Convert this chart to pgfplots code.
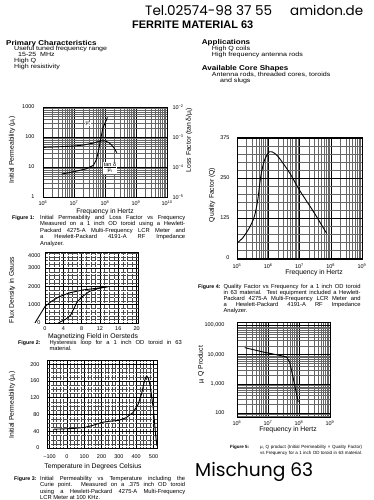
\documentclass[border=0pt]{standalone}
\usepackage{fontspec}
\setmainfont{Liberation Sans}
\newfontfamily\popp{Poppins}
\usepackage{graphicx}
\usepackage{pgfplots}
\pgfplotsset{compat=1.18}

\newcommand{\tkf}{\fontsize{5.5}{6}\selectfont}
\newcommand{\lbf}{\fontsize{6.8}{7}\selectfont}
\newcommand{\cpf}{\fontsize{5.8}{6}\selectfont}
\newcommand{\fgf}{\fontsize{5.3}{6}\selectfont\bfseries}
\newcommand{\smf}{\fontsize{4.5}{5}\selectfont}
\newcommand{\bdf}{\fontsize{6}{6}\selectfont}
\newcommand{\hdf}{\fontsize{7}{7}\selectfont\bfseries}
% justified caption line: font, x, y(baseline, down), width, text
\newcommand{\jl}[5]{\node[anchor=base west,inner sep=0pt,font=#1] at (#2pt,-#3pt) {\makebox[#4pt][s]{#5}};}
\newcommand{\pl}[4]{\node[anchor=base west,inner sep=0pt,font=#1] at (#2pt,-#3pt) {#4};}
% horizontally widened text line
\newcommand{\wl}[5]{\node[anchor=base west,inner sep=0pt,font=#1] at (#2pt,-#3pt) {\scalebox{#4}[1]{#5}};}

\pgfplotsset{
  ds/.style={scale only axis, anchor=north west,
    axis line style={line width=0.6pt},
    major tick length=0pt, minor tick length=0pt,
    grid=both,
    major grid style={black, line width=0.5pt},
    minor grid style={black!60, line width=0.2pt},
    tick label style={font=\tkf}},
  cv/.style={black, line width=0.9pt, mark=none},
}

\begin{document}
\begin{tikzpicture}
\fill[white] (0,0) rectangle (373pt,-500pt);

% ---------------- Figure 1 ----------------
\begin{axis}[ds, at={(43pt,-107pt)}, width=124pt, height=90pt,
  xmode=log, ymode=log, xmin=1e6, xmax=1e10, ymin=1, ymax=1000,
  xtick={1e6,1e7,1e8,1e9,1e10},
  xticklabels={10\textsuperscript{6},10\textsuperscript{7},10\textsuperscript{8},10\textsuperscript{9},10\textsuperscript{10}},
  ytick={1,10,100,1000}, yticklabels={1,10,100,1000},
  minor xtick={2e6,3e6,4e6,5e6,6e6,7e6,8e6,9e6,2e7,3e7,4e7,5e7,6e7,7e7,8e7,9e7,2e8,3e8,4e8,5e8,6e8,7e8,8e8,9e8,2e9,3e9,4e9,5e9,6e9,7e9,8e9,9e9},
  minor ytick={2,3,4,5,6,7,8,9,20,30,40,50,60,70,80,90,200,300,400,500,600,700,800,900},
  yticklabel style={xshift=-5pt}, xticklabel style={yshift=-0.5pt}]
\addplot[cv] coordinates {(1e6,45) (3e6,47) (1e7,50) (2e7,54) (4e7,62) (6e7,70) (8e7,75) (1e8,74) (1.3e8,66) (1.6e8,55) (2e8,42) (2.4e8,30)};
\end{axis}
\begin{axis}[scale only axis, anchor=north west, at={(43pt,-107pt)}, width=124pt, height=90pt,
  xmode=log, ymode=log, xmin=1e6, xmax=1e10, ymin=1e-5, ymax=1e-2,
  axis y line*=right, axis x line=none, axis line style={line width=0.6pt},
  major tick length=0pt, minor tick length=0pt,
  ytick={1e-5,1e-4,1e-3,1e-2},
  yticklabels={10\textsuperscript{−5},10\textsuperscript{−4},10\textsuperscript{−3},10\textsuperscript{−2}},
  tick label style={font=\tkf}, yticklabel style={xshift=2pt}]
\addplot[cv] coordinates {(4e6,5.8e-5) (1e7,7e-5) (2.5e7,8.7e-5) (4.3e7,1.15e-4) (5.2e7,1.7e-4) (5.8e7,2.6e-4) (6.3e7,3.9e-4) (7.1e7,7.6e-4) (8.5e7,1.96e-3) (1.2e8,4.5e-3)};
\end{axis}
\node[font=\tkf, fill=white, inner sep=0.5pt] at (88pt,-124pt) {μ\textsubscript{i}};
\node[font=\tkf, fill=white, inner sep=0.5pt] at (110pt,-168pt) {\begin{tabular}{@{}c@{}}tan δ\\[-1pt]\hline μ\textsubscript{i}\end{tabular}};
\node[font=\lbf, rotate=90] at (12pt,-150pt) {Initial Permeability (μ\textsubscript{i})};
\node[font=\lbf, rotate=90] at (189pt,-140pt) {Loss Factor (tan δ/μ\textsubscript{i})};
\node[font=\lbf] at (105pt,-211.5pt) {Frequency in Hertz};
\pl{\fgf}{12}{219}{Figure 1:}
\jl{\cpf}{40}{219}{145}{Initial Permeability and Loss Factor vs Frequency}
\jl{\cpf}{40}{225.5}{145}{Measured on a 1 inch OD toroid using a Hewlett-}
\jl{\cpf}{40}{232}{145}{Packard 4275-A Multi-Frequency LCR Meter and}
\jl{\cpf}{40}{238.5}{145}{a Hewlett-Packard 4191-A RF Impedance}
\pl{\cpf}{40}{245}{Analyzer.}

% ---------------- Figure 2 ----------------
\begin{axis}[ds, at={(45pt,-252pt)}, width=93pt, height=71pt, clip=false,
  xmin=0, xmax=20.3, ymin=0, ymax=3870,
  xtick={0,4,8,12,16,20}, xticklabels={0,4,8,12,16,20},
  ytick={0,1000,2000,3000}, yticklabels={0,1000,2000,3000},
  extra y ticks={3700}, extra y tick labels={4000}, extra tick style={grid=none},
  minor xtick={1,2,3,5,6,7,9,10,11,13,14,15,17,18,19},
  minor ytick={200,400,600,800,1200,1400,1600,1800,2200,2400,2600,2800,3200,3400,3600,3800},
  minor grid style={black!70, densely dotted, line width=0.25pt},
  yticklabel style={xshift=-1pt}]
\addplot[cv] coordinates {(-2.2,0) (-1.1,450) (0,900) (1.4,1180) (3,1420) (5.3,1640) (8.2,1800) (11.2,1890) (13.7,1980)};
\addplot[cv] coordinates {(2.9,0) (4.6,220) (5.6,430) (6.3,780) (7.0,1150) (8.2,1450) (9.7,1720) (11.8,1890) (13.7,1980)};
\end{axis}
\node[font=\lbf, rotate=90] at (12pt,-290pt) {Flux Density in Gauss};
\node[font=\lbf] at (93pt,-337pt) {Magnetizing Field in Oersteds};
\pl{\fgf}{18}{344.7}{Figure 2:}
\jl{\cpf}{49.3}{344.7}{132.4}{Hysteresis loop for a 1 inch OD toroid in 63}
\pl{\cpf}{49.3}{350.5}{material.}

% ---------------- Figure 3 ----------------
\begin{axis}[ds, at={(47pt,-360pt)}, width=110pt, height=88pt,
  xmin=-115, xmax=520, ymin=0, ymax=210,
  xtick={-100,0,100,200,300,400,500}, xticklabels={−100,0,100,200,300,400,500},
  ytick={0,40,80,120,160,200}, yticklabels={0,40,80,120,160,200},
  minor x tick num=4, minor y tick num=3,
  minor grid style={black!70, densely dotted, line width=0.25pt},
  yticklabel style={xshift=-4pt}, xticklabel style={yshift=-3pt}]
\addplot[cv] coordinates {(-75,45) (0,46) (50,47) (100,49) (150,54) (200,61) (250,64) (300,66) (340,72) (380,84) (410,103) (430,128) (445,155) (455,169) (462,171) (470,166) (481,148) (490,120) (500,90) (508,50) (515,20) (520,5)};
\end{axis}
\node[font=\lbf, rotate=90] at (12pt,-405pt) {Initial Permeability (μ\textsubscript{i})};
\node[font=\lbf] at (93pt,-467pt) {Temperature in Degrees Celsius};
\pl{\fgf}{14}{480}{Figure 3:}
\jl{\cpf}{40}{480}{145}{Initial Permeability vs Temperature including the}
\jl{\cpf}{40}{486.5}{145}{Curie point. Measured on a .375 inch OD toroid}
\jl{\cpf}{40}{493}{145}{using a Hewlett-Packard 4275-A Multi-Frequency}
\pl{\cpf}{40}{499.3}{LCR Meter at 100 KHz.}

% ---------------- Figure 4 ----------------
\begin{axis}[ds, at={(237pt,-137pt)}, width=125pt, height=122pt,
  xmode=log, xmin=1e5, xmax=1e9, ymin=-3, ymax=378,
  xtick={1e5,1e6,1e7,1e8,1e9},
  xticklabels={10\textsuperscript{5},10\textsuperscript{6},10\textsuperscript{7},10\textsuperscript{8},10\textsuperscript{9}},
  minor xtick={2e5,3e5,4e5,5e5,6e5,7e5,8e5,9e5,2e6,3e6,4e6,5e6,6e6,7e6,8e6,9e6,2e7,3e7,4e7,5e7,6e7,7e7,8e7,9e7,2e8,3e8,4e8,5e8,6e8,7e8,8e8,9e8},
  ytick={0,125,250,375}, yticklabels={0,125,250,375},
  minor y tick num=4,
  yticklabel style={xshift=-4pt}, xticklabel style={yshift=-1.5pt}]
\addplot[cv, smooth] coordinates {(1e5,47) (1.5e5,62) (2.5e5,95) (3.6e5,130) (4.6e5,180) (5.2e5,223) (6e5,265) (7.6e5,306) (1.1e6,332) (1.6e6,327) (2.3e6,311) (4.9e6,265) (1e7,212) (2.8e7,145) (5.1e7,103) (7.4e7,77)};
\end{axis}
\node[font=\lbf, rotate=90] at (212pt,-195pt) {Quality Factor (Q)};
\node[font=\lbf] at (314pt,-273pt) {Frequency in Hertz};
\pl{\fgf}{198}{288}{Figure 4:}
\jl{\cpf}{223.3}{288}{137}{Quality Factor vs Frequency for a 1 inch OD toroid}
\jl{\cpf}{223.3}{294.2}{137}{in 63 material. Test equipment included a Hewlett-}
\jl{\cpf}{223.3}{300.4}{137}{Packard 4275-A Multi-Frequency LCR Meter and}
\jl{\cpf}{223.3}{306.6}{137}{a Hewlett-Packard 4191-A RF Impedance}
\pl{\cpf}{223.3}{312.8}{Analyzer.}

% ---------------- Figure 5 ----------------
\begin{axis}[ds, at={(237pt,-322pt)}, width=93pt, height=95pt,
  xmode=log, ymode=log, xmin=1e6, xmax=1e9, ymin=73, ymax=129700,
  xtick={1e6,1e7,1e8,1e9},
  xticklabels={10\textsuperscript{6},10\textsuperscript{7},10\textsuperscript{8},10\textsuperscript{9}},
  ytick={100,1000,10000,100000}, yticklabels={100,{1,000},{10,000},{100,000}},
  minor xtick={2e6,3e6,4e6,5e6,6e6,7e6,8e6,9e6,2e7,3e7,4e7,5e7,6e7,7e7,8e7,9e7,2e8,3e8,4e8,5e8,6e8,7e8,8e8,9e8},
  minor ytick={80,90,200,300,400,500,600,700,800,900,2000,3000,4000,5000,6000,7000,8000,9000,20000,30000,40000,50000,60000,70000,80000,90000},
  yticklabel style={xshift=-9pt}]
\addplot[cv] coordinates {(1.78e6,17200) (7e6,12200) (2.4e7,9350) (4e7,8200) (5e7,5500) (6.4e7,1700) (8.3e7,460) (9.4e7,240)};
\end{axis}
\node[font=\lbf, rotate=90] at (201pt,-365pt) {μ\textsubscript{i} Q Product};
\node[font=\lbf] at (288pt,-430pt) {Frequency in Hertz};
\pl{\smf\bfseries}{230}{448.7}{Figure 5:}
\jl{\smf}{260}{448.7}{102}{μ\textsubscript{i} Q product (Initial Permeability × Quality Factor)}
\jl{\smf}{260}{454.5}{102}{vs Frequency for a 1 inch OD toroid in 63 material.}

% ---------------- Header texts ----------------
\node[anchor=base west, inner sep=0pt] at (145pt,-16pt) {\resizebox{127pt}{!}{\popp Tel.02574-98 37 55}};
\node[anchor=base west, inner sep=0pt] at (290pt,-16pt) {\resizebox{73pt}{!}{\popp amidon.de}};
\node[anchor=base west, inner sep=0pt] at (132pt,-28.8pt) {\resizebox{121pt}{!}{\bfseries FERRITE MATERIAL 63}};
\node[anchor=west, inner sep=0pt] at (195pt,-471.7pt) {\resizebox{118pt}{!}{\popp Mischung 63}};

\wl{\hdf}{6}{45.2}{1.15}{Primary Characteristics}
\wl{\bdf}{14}{50.5}{1.18}{Useful tuned frequency range}
\wl{\bdf}{18}{56.5}{1.18}{15-25\ \ MHz}
\wl{\bdf}{14}{62.9}{1.18}{High Q}
\wl{\bdf}{14}{68.9}{1.18}{High resistivity}

\wl{\hdf}{201.7}{44.2}{1.15}{Applications}
\wl{\bdf}{211.7}{50.5}{1.18}{High Q coils}
\wl{\bdf}{211.7}{56.5}{1.18}{High frequency antenna rods}
\wl{\hdf}{201.7}{70.2}{1.15}{Available Core Shapes}
\wl{\bdf}{211.7}{76.2}{1.18}{Antenna rods, threaded cores, toroids}
\wl{\bdf}{220}{82.2}{1.18}{and slugs}

\pgfresetboundingbox
\path (0,0) rectangle (373pt,-500pt);
\end{tikzpicture}
\end{document}
